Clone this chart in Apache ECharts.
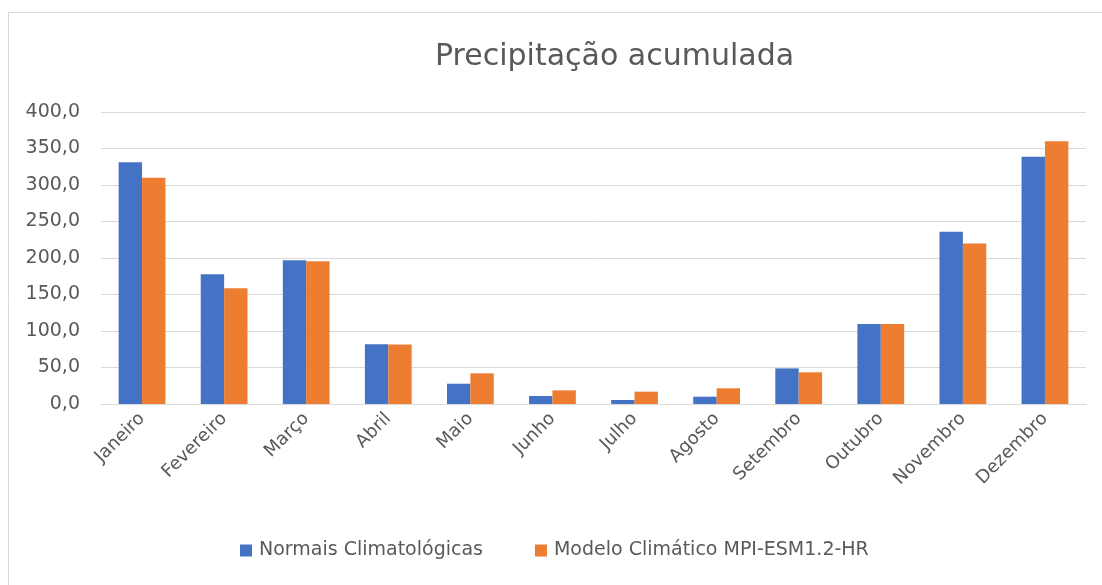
<!DOCTYPE html>
<html><head><meta charset="utf-8">
<script src="https://cdn.jsdelivr.net/npm/echarts@6/dist/echarts.min.js"></script>
<style>html,body{margin:0;padding:0;background:#fff}#c{width:1102px;height:585px}</style>
</head><body><div id="c"></div>
<script>
const categories = ["Janeiro","Fevereiro","Março","Abril","Maio","Junho","Julho","Agosto","Setembro","Outubro","Novembro","Dezembro"];
const normais = [331, 177.6, 197, 82, 27.8, 11, 5.5, 10, 48.8, 109.6, 236, 338.8];
const modelo = [310, 158.4, 195.4, 81.5, 42, 18.7, 16.9, 21.5, 43.4, 109.6, 220, 359.8];
const seriesNames = ["Normais Climatológicas", "Modelo Climático MPI-ESM1.2-HR"];
const yTicks = {min: 0, max: 400, interval: 50};

const font = "'DejaVu Sans', sans-serif";
const chart = echarts.init(document.getElementById('c'), null, {renderer: 'canvas'});
chart.setOption({
  animation: false,
  backgroundColor: '#fff',
  graphic: [{type: 'rect', shape: {x: 8.5, y: 12.5, width: 1100, height: 580}, style: {fill: 'none', stroke: '#d9d9d9', lineWidth: 1}, silent: true}],
  title: {text: 'Precipitação acumulada', left: 435, top: 42, padding: 0,
    textStyle: {fontFamily: font, fontSize: 30, fontWeight: 'normal', color: '#595959'}},
  legend: {top: 541, left: 240, itemWidth: 12, itemHeight: 12, itemGap: 52,
    icon: 'rect', textStyle: {fontFamily: font, fontSize: 19, color: '#595959', padding: [0, 0, 0, 2]}, padding: 0},
  grid: {left: 101, right: 16, top: 112, bottom: 181},
  xAxis: {type: 'category', data: categories,
    axisLine: {lineStyle: {color: '#d9d9d9', width: 1}}, axisTick: {show: false},
    axisLabel: {rotate: 45, fontFamily: font, fontSize: 18, color: '#595959', margin: 12, interval: 0}},
  yAxis: {type: 'value', min: yTicks.min, max: yTicks.max, interval: yTicks.interval,
    axisLine: {show: false}, axisTick: {show: false},
    splitLine: {lineStyle: {color: '#d9d9d9', width: 1}},
    axisLabel: {fontFamily: font, fontSize: 19, color: '#595959', margin: 21,
      formatter: v => v.toFixed(1).replace('.', ',')}},
  series: [
    {name: seriesNames[0], type: 'bar', data: normais, barGap: '0%', barCategoryGap: '43%',
      itemStyle: {color: '#4472c4'}},
    {name: seriesNames[1], type: 'bar', data: modelo, barGap: '0%', barCategoryGap: '43%',
      itemStyle: {color: '#ed7d31'}}
  ]
});
</script></body></html>
